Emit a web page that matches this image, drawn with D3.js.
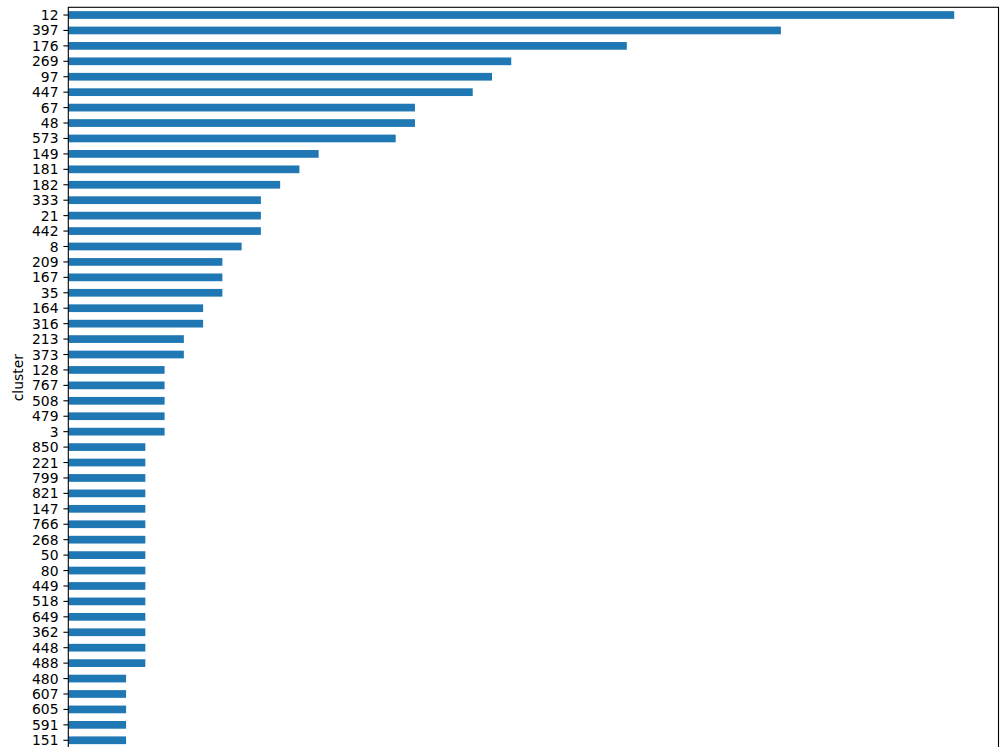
<!DOCTYPE html>
<html><head><meta charset="utf-8">
<script src="https://cdn.jsdelivr.net/npm/d3@7"></script>
<style>body{margin:0;background:#fff}svg{display:block}text{font-family:"DejaVu Sans",sans-serif}</style>
</head><body>
<script>
const categories = ["12","397","176","269","97","447","67","48","573","149","181","182","333","21","442","8","209","167","35","164","316","213","373","128","767","508","479","3","850","221","799","821","147","766","268","50","80","449","518","649","362","448","488","480","607","605","591","151"];
const values = [46,37,29,23,22,21,18,18,17,13,12,11,10,10,10,9,8,8,8,7,7,6,6,5,5,5,5,5,4,4,4,4,4,4,4,4,4,4,4,4,4,4,4,3,3,3,3,3];
const yLabel = "cluster";

const W = 1006, H = 747;
const mLeft = 68.3, mRight = 998.5, mTop = 7.3, mBottom = 748;
const svg = d3.select("body").append("svg").attr("width", W).attr("height", H);

const x = d3.scaleLinear().domain([0, d3.max(values) * 1.05]).range([mLeft, mRight]);
const y = d3.scaleBand().domain(categories).range([mTop, mBottom]).paddingInner(0.5).paddingOuter(0.25);

svg.append("g").selectAll("rect").data(categories).join("rect")
  .attr("x", x(0))
  .attr("y", d => y(d))
  .attr("width", (d, i) => x(values[i]) - x(0))
  .attr("height", y.bandwidth())
  .attr("fill", "#1f77b4");

const yAxis = d3.axisLeft(y).tickSize(4.9).tickPadding(4.9);
const gy = svg.append("g").attr("transform", `translate(${mLeft},0)`).call(yAxis);
gy.select(".domain").remove();
gy.selectAll(".tick line").attr("stroke", "#000").attr("stroke-width", 1.1);
gy.selectAll(".tick text").attr("font-size", "13.9px").attr("fill", "#000").attr("font-family", "DejaVu Sans").attr("dy", "0.36em");

svg.append("rect").attr("x", mLeft).attr("y", mTop).attr("width", mRight - mLeft).attr("height", mBottom - mTop)
  .attr("fill", "none").attr("stroke", "#000").attr("stroke-width", 1.1);

svg.append("text").attr("transform", `translate(23,${(mTop + mBottom) / 2}) rotate(-90)`)
  .attr("text-anchor", "middle").attr("font-size", "13.9px").attr("fill", "#000").text(yLabel);
</script>
</body></html>
